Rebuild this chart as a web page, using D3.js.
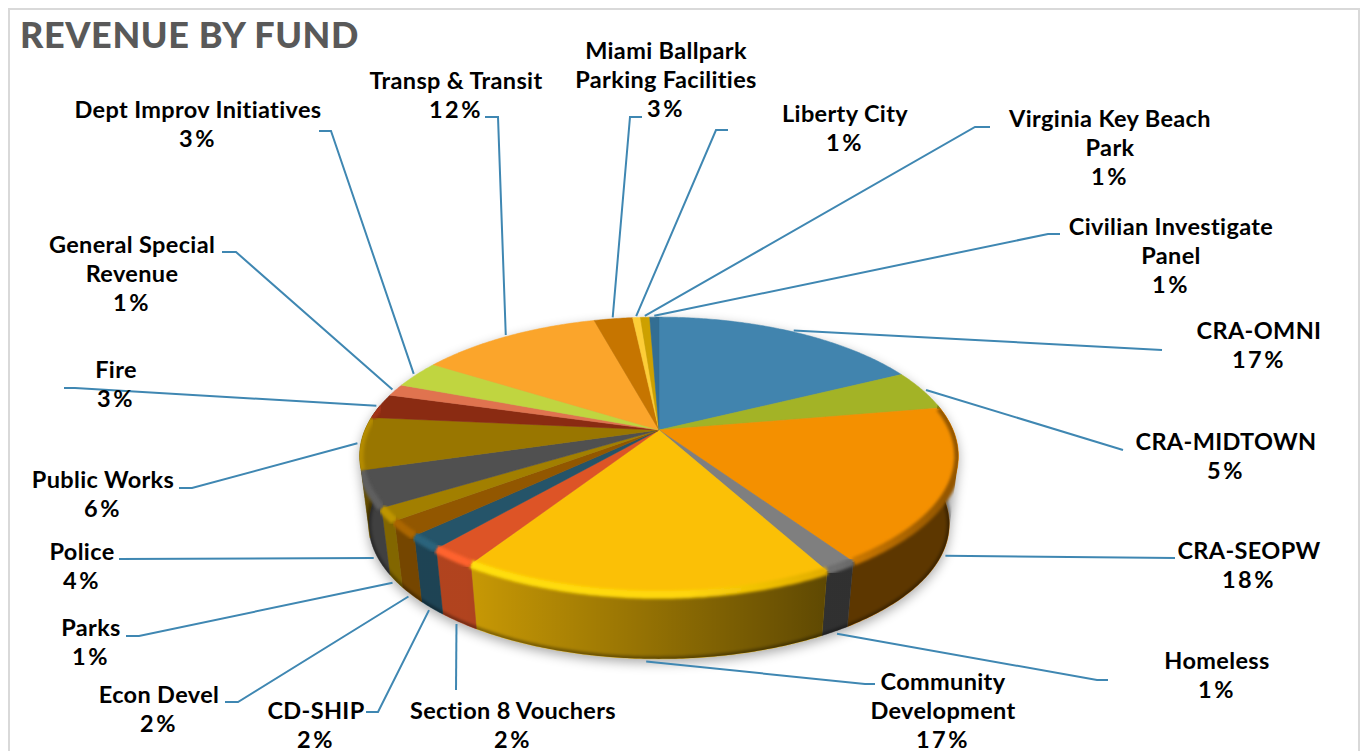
<!DOCTYPE html>
<html lang="en">
<head>
<meta charset="utf-8"/>
<style>
  html, body { margin: 0; padding: 0; background: #fff; }
  svg { display: block; }
  text { font-family: "Lato", sans-serif; font-weight: 700; fill: #000; }
  #title { font-size: 36px; font-weight: 900; fill: #595959; letter-spacing: 0.6px; }
  .label { font-size: 23.5px; letter-spacing: 0.35px; text-anchor: middle; }
  .pct { letter-spacing: 2.5px; }
</style>
<script src="https://d3js.org/d3.v7.min.js"></script>
</head>
<body>
<svg id="chart" width="1361" height="751"></svg>
<script>
// going clockwise from 12 o'clock
const funds = ["CRA-OMNI", "CRA-MIDTOWN", "CRA-SEOPW", "Homeless", "Community Development",
  "Section 8 Vouchers", "CD-SHIP", "Econ Devel", "Parks", "Police", "Public Works", "Fire",
  "General Special Revenue", "Dept Improv Initiatives", "Transp & Transit",
  "Miami Ballpark Parking Facilities", "Liberty City", "Virginia Key Beach Park", "Civilian Investigate Panel"]
const shares = [17.6, 4.7, 18.3, 1.5, 17.0, 2.2, 1.65, 1.8, 1.5, 4.2, 6.1, 2.9, 1.4, 3.2, 11.8, 2.5, 0.5, 0.6, 0.6]
const percentLabels = ["17%", "5%", "18%", "1%", "17%", "2%", "2%", "2%", "1%", "4%", "6%", "3%", "1%", "3%", "12%", "3%", "1%", "1%", "1%"]

const colors = ["#4184AE", "#A3B326", "#F49000", "#7F7F7F", "#FBC006", "#DD5426", "#255469", "#925700", "#A27F00",
  "#505050", "#997600", "#8A2B12", "#E0734F", "#C0D540", "#FBA52B", "#C67500", "#FDCD37", "#CDA000", "#336E93"]

// label placement: wrapped lines, centre x, centre y of first line, then where the leader ends
const labelLines = [["CRA-OMNI"], ["CRA-MIDTOWN"], ["CRA-SEOPW"], ["Homeless"], ["Community", "Development"],
  ["Section 8 Vouchers"], ["CD-SHIP"], ["Econ Devel"], ["Parks"], ["Police"], ["Public Works"], ["Fire"],
  ["General Special", "Revenue"], ["Dept Improv Initiatives"], ["Transp & Transit"],
  ["Miami Ballpark", "Parking Facilities"], ["Liberty City"], ["Virginia Key Beach", "Park"], ["Civilian Investigate", "Panel"]]
const labelX = [1259, 1226, 1249, 1217, 943, 513, 316, 159, 91, 82, 103, 116, 132, 198, 456, 666, 845, 1110, 1171]
const labelY = [331, 442, 551, 661, 682, 711, 711, 695, 628, 552, 480, 370, 245, 110, 81, 51, 114, 119, 227]
const leaderEnds = [
  [[1162, 350]], [[1123, 450]], [[1175, 558]], [[1097, 680], [1108, 680]], [[865, 684], [875, 684]],
  [[456, 690]], [[378, 712], [366, 712]], [[238, 702], [225, 702]], [[139, 636], [126, 636]], [[119, 559]],
  [[192, 488], [179, 488]], [[75, 388], [64, 388]], [[236, 252], [222, 252]], [[331, 131], [319, 131]],
  [[498, 117], [485, 117]], [[630, 117], [642, 117]], [[716, 130], [728, 130]], [[975, 127], [990, 127]],
  [[1048, 234], [1060, 234]]]

const svg = d3.select("#chart")
const defs = svg.append("defs")

// pie tilted in perspective: the centre of the circle is not the centre of the ellipse
const apexX = 659, apexY = 430
const radiusX = 294, radiusY = 134, tilt = 0.187
const wallDrop = 69, wallShrink = 0.97

function project(angle, bottom) {
  let u = Math.sin(angle), v = -Math.cos(angle)
  let w = 1 - tilt * v
  let x = radiusX * u / w, y = radiusY * v / w
  if (bottom) return [apexX + x * wallShrink, apexY + y * wallShrink + wallDrop]
  return [apexX + x, apexY + y]
}

const line = d3.line()
function rimPoints(a0, a1, bottom) {
  let n = Math.max(2, Math.ceil((a1 - a0) / 0.01))
  return d3.range(n + 1).map(i => project(a0 + (a1 - a0) * i / n, bottom))
}

const pie = d3.pie().sort(null).value(d => d)
const slices = pie(shares).map((d, i) => ({ ...d, i: i, mid: (d.startAngle + d.endAngle) / 2 }))

const tau = 2 * Math.PI
const wholeTop = rimPoints(0, tau, false)
const wholeBottom = rimPoints(0, tau, true)
const frontFrom = 0.22 * tau, frontTo = 0.78 * tau
const bodyOutline = "M" + d3.polygonHull(wholeTop.concat(wholeBottom)).join("L") + "Z"

// soft things
defs.append("filter").attr("id", "shadowBlur").attr("x", "-10%").attr("y", "-10%").attr("width", "120%").attr("height", "120%")
  .append("feGaussianBlur").attr("stdDeviation", 6)
defs.append("filter").attr("id", "rimBlur").attr("x", "-5%").attr("y", "-20%").attr("width", "110%").attr("height", "140%")
  .append("feGaussianBlur").attr("stdDeviation", 1.6)
defs.append("clipPath").attr("id", "bodyClip").append("path").attr("d", bodyOutline)

// the walls get darker from left to right
let wallShade = defs.append("linearGradient").attr("id", "wallShade")
  .attr("gradientUnits", "userSpaceOnUse").attr("x1", 358).attr("x2", 957).attr("y1", 0).attr("y2", 0)
wallShade.append("stop").attr("offset", 0.18).attr("stop-color", "#000").attr("stop-opacity", 0.2)
wallShade.append("stop").attr("offset", 0.78).attr("stop-color", "#000").attr("stop-opacity", 0.62)

colors.forEach((c, i) => {
  let g = defs.append("linearGradient").attr("id", "rim" + i)
    .attr("gradientUnits", "userSpaceOnUse").attr("x1", 358).attr("x2", 957).attr("y1", 0).attr("y2", 0)
  g.append("stop").attr("offset", 0.12).attr("stop-color", d3.color(c).brighter(0.45))
  g.append("stop").attr("offset", 0.55).attr("stop-color", d3.color(c).brighter(0.3))
  g.append("stop").attr("offset", 0.78).attr("stop-color", d3.color(c).darker(0.3))
  g.append("stop").attr("offset", 0.98).attr("stop-color", d3.color(c).darker(1.4))
})

// shadow
svg.append("path").attr("d", bodyOutline)
  .attr("transform", "translate(0,4)")
  .attr("fill", "#000").attr("opacity", 0.34)
  .attr("filter", "url(#shadowBlur)")

// frame
svg.append("rect").attr("x", 9).attr("y", 9).attr("width", 1350).attr("height", 760)
  .attr("fill", "none").attr("stroke", "#D9D9D9").attr("stroke-width", 2)

svg.append("text").attr("id", "title").attr("x", 20).attr("y", 48).text("REVENUE BY FUND")

// walls
const front = slices.filter(d => d.endAngle > frontFrom && d.startAngle < frontTo)
const wallPath = d => {
  let a0 = Math.max(d.startAngle, frontFrom), a1 = Math.min(d.endAngle, frontTo)
  return line(rimPoints(a0, a1, false).concat(rimPoints(a0, a1, true).reverse())) + "Z"
}
svg.append("g").selectAll("path").data(front).enter().append("path")
  .attr("d", wallPath).attr("fill", d => colors[d.i])
  .attr("stroke", d => colors[d.i]).attr("stroke-width", 0.5)
svg.append("g").selectAll("path").data(front).enter().append("path")
  .attr("d", wallPath).attr("fill", "url(#wallShade)")

// dark line along the foot of the wall
svg.append("g").attr("clip-path", "url(#bodyClip)").append("path")
  .attr("d", line(rimPoints(frontFrom, frontTo, true)))
  .attr("fill", "none").attr("stroke", "#000").attr("stroke-opacity", 0.35).attr("stroke-width", 5)
  .attr("filter", "url(#rimBlur)")

// top face
svg.append("g").selectAll("path").data(slices).enter().append("path")
  .attr("d", d => line([[apexX, apexY]].concat(rimPoints(d.startAngle, d.endAngle, false))) + "Z")
  .attr("fill", d => colors[d.i])
  .attr("stroke", d => colors[d.i]).attr("stroke-width", 0.5)

// bevel along the front edge
svg.append("g").attr("clip-path", "url(#bodyClip)").selectAll("path").data(front).enter().append("path")
  .attr("d", d => line(rimPoints(Math.max(d.startAngle, frontFrom), Math.min(d.endAngle, frontTo), false)))
  .attr("fill", "none").attr("stroke", d => "url(#rim" + d.i + ")").attr("stroke-width", 8)
  .attr("filter", "url(#rimBlur)")

// leaders start on the rim, or at the foot of the wall on the front side
function leaderStart(d) {
  let onWall = d.mid > 0.28 * tau && d.mid < 0.7 * tau
  let p = project(d.mid, onWall)
  return [apexX + (p[0] - apexX) * 1.012, apexY + (p[1] - apexY) * 1.012]
}
svg.append("g").selectAll("path").data(slices).enter().append("path")
  .attr("d", d => line([leaderStart(d)].concat(leaderEnds[d.i])))
  .attr("fill", "none").attr("stroke", "#3F87B2").attr("stroke-width", 2)

// labels
const labels = svg.append("g").selectAll("text").data(slices).enter().append("text")
  .attr("class", "label")
  .attr("transform", d => "translate(" + labelX[d.i] + "," + (labelY[d.i] + 8) + ")")
labels.selectAll("tspan").data(d => labelLines[d.i].concat(percentLabels[d.i])).enter().append("tspan")
  .attr("x", 0).attr("dy", (d, i) => i ? 29 : 0)
  .attr("class", d => d.endsWith("%") ? "pct" : null).text(d => d)
</script>
</body>
</html>
